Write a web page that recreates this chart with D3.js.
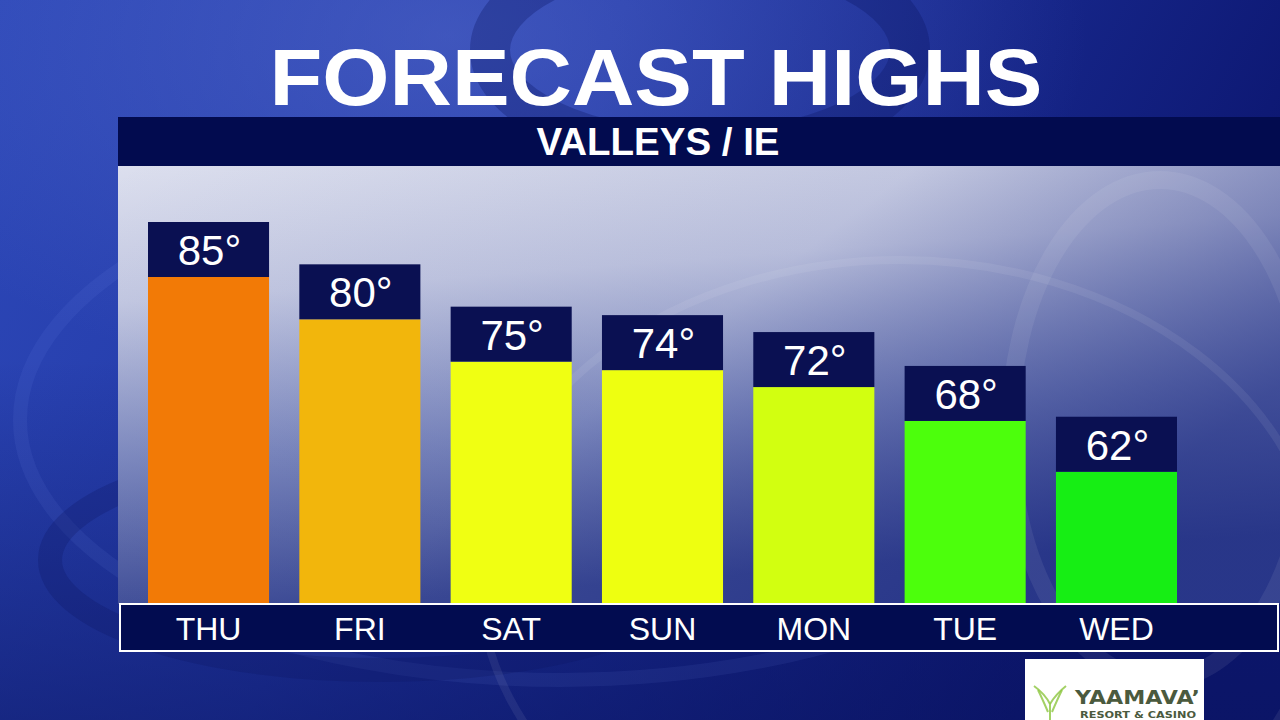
<!DOCTYPE html>
<html>
<head>
<meta charset="utf-8">
<script src="https://cdn.jsdelivr.net/npm/d3@7"></script>
<style>
html,body{margin:0;padding:0;background:#1a2a90;overflow:hidden;}
svg{display:block;}
</style>
</head>
<body>
<svg id="chart" width="1280" height="720"></svg>
<script>
const days = ["THU","FRI","SAT","SUN","MON","TUE","WED"];
const highs = [85, 80, 75, 74, 72, 68, 62];
const barColors = ["#f27a06","#f2b60c","#f0ff12","#eeff10","#d2ff10","#4cff0c","#16ee14"];
const titleText = "FORECAST HIGHS";
const subtitleText = "VALLEYS / IE";

const svg = d3.select("#chart");
const defs = svg.append("defs");

// background gradients
const bg = defs.append("linearGradient").attr("id","bg").attr("x1",0).attr("y1",0).attr("x2",1).attr("y2",0.3);
bg.append("stop").attr("offset","0%").attr("stop-color","#2d48b8");
bg.append("stop").attr("offset","45%").attr("stop-color","#2238a6");
bg.append("stop").attr("offset","100%").attr("stop-color","#0c1670");
const bgGlow = defs.append("radialGradient").attr("id","bgGlow").attr("cx",0.35).attr("cy",0.05).attr("r",0.5);
bgGlow.append("stop").attr("offset","0%").attr("stop-color","#5a70d0").attr("stop-opacity",0.5);
bgGlow.append("stop").attr("offset","100%").attr("stop-color","#5a70d0").attr("stop-opacity",0);
const bottomDark = defs.append("linearGradient").attr("id","bottomDark").attr("x1",0).attr("y1",0).attr("x2",0).attr("y2",1);
bottomDark.append("stop").attr("offset","0%").attr("stop-color","#0a1460").attr("stop-opacity",0);
bottomDark.append("stop").attr("offset","100%").attr("stop-color","#0a1460").attr("stop-opacity",0.55);

const panel = defs.append("linearGradient").attr("id","panel").attr("x1",0).attr("y1",0).attr("x2",0.2).attr("y2",1);
panel.append("stop").attr("offset","0%").attr("stop-color","#dcdfee");
panel.append("stop").attr("offset","30%").attr("stop-color","#c4c9e2");
panel.append("stop").attr("offset","65%").attr("stop-color","#7e8abf");
panel.append("stop").attr("offset","100%").attr("stop-color","#3e4c96");
const panelR = defs.append("linearGradient").attr("id","panelR").attr("x1",0).attr("y1",0).attr("x2",1).attr("y2",0.5);
panelR.append("stop").attr("offset","0%").attr("stop-color","#1a2880").attr("stop-opacity",0);
panelR.append("stop").attr("offset","55%").attr("stop-color","#1a2880").attr("stop-opacity",0.08);
panelR.append("stop").attr("offset","100%").attr("stop-color","#1a2880").attr("stop-opacity",0.6);

svg.append("rect").attr("width",1280).attr("height",720).attr("fill","url(#bg)");
svg.append("rect").attr("width",1280).attr("height",720).attr("fill","url(#bgGlow)");
svg.append("rect").attr("y",360).attr("width",1280).attr("height",360).attr("fill","url(#bottomDark)");

// faint swirl rings in background
const rings = svg.append("g").attr("fill","none");
rings.append("ellipse").attr("cx",560).attr("cy",420).attr("rx",540).attr("ry",260)
  .attr("stroke","#8aa0ff").attr("stroke-opacity",0.08).attr("stroke-width",14);
rings.append("ellipse").attr("cx",700).attr("cy",50).attr("rx",210).attr("ry",100)
  .attr("stroke","#0a1560").attr("stroke-opacity",0.3).attr("stroke-width",40);
rings.append("ellipse").attr("cx",380).attr("cy",560).attr("rx",330).attr("ry",110)
  .attr("stroke","#0a1460").attr("stroke-opacity",0.25).attr("stroke-width",24);

// title
svg.append("text").attr("x",656).attr("y",105).attr("text-anchor","middle")
  .attr("font-family","Liberation Sans, Arial, sans-serif").attr("font-weight","bold")
  .attr("font-size",79).attr("fill","#ffffff")
  .attr("textLength",773).attr("lengthAdjust","spacingAndGlyphs")
  .text(titleText);

// header bar
svg.append("rect").attr("x",118).attr("y",117).attr("width",1162).attr("height",49).attr("fill","#020b4f");
svg.append("text").attr("x",658).attr("y",155).attr("text-anchor","middle")
  .attr("font-family","Liberation Sans, Arial, sans-serif").attr("font-weight","bold")
  .attr("font-size",38).attr("fill","#ffffff")
  .attr("textLength",243).attr("lengthAdjust","spacingAndGlyphs")
  .text(subtitleText);

// chart panel
svg.append("rect").attr("x",118).attr("y",166).attr("width",1162).attr("height",438).attr("fill","url(#panel)");
svg.append("rect").attr("x",118).attr("y",166).attr("width",1162).attr("height",438).attr("fill","url(#panelR)");
// faint light streaks on panel
const streaks = svg.append("g").attr("fill","none");
streaks.append("ellipse").attr("cx",900).attr("cy",580).attr("rx",420).attr("ry",320)
  .attr("stroke","#ffffff").attr("stroke-opacity",0.07).attr("stroke-width",8);
streaks.append("ellipse").attr("cx",1160).attr("cy",430).attr("rx",150).attr("ry",250)
  .attr("stroke","#ffffff").attr("stroke-opacity",0.07).attr("stroke-width",18);

// scales
const x = d3.scaleBand().domain(days).range([148,1177]).paddingInner(0.2).paddingOuter(0);
const y = d3.scaleLinear().domain([40,85]).range([603,222]);
const labelH = 55;
const baseY = y(40);

const bars = svg.append("g").selectAll("g").data(days).join("g");
bars.append("rect")
  .attr("x",d=>x(d)).attr("width",x.bandwidth())
  .attr("y",(d,i)=>y(highs[i])+labelH)
  .attr("height",(d,i)=>baseY-(y(highs[i])+labelH))
  .attr("fill",(d,i)=>barColors[i]);
bars.append("rect")
  .attr("x",d=>x(d)).attr("width",x.bandwidth())
  .attr("y",(d,i)=>y(highs[i]))
  .attr("height",labelH)
  .attr("fill","#0a1052");
bars.append("text")
  .attr("x",d=>x(d)+x.bandwidth()/2+1)
  .attr("y",(d,i)=>y(highs[i])+43)
  .attr("text-anchor","middle")
  .attr("font-family","Liberation Sans, Arial, sans-serif")
  .attr("font-size",42).attr("fill","#ffffff")
  .text((d,i)=>highs[i]+"°");

// axis bar
svg.append("rect").attr("x",120).attr("y",604).attr("width",1158).attr("height",47)
  .attr("fill","#020c50").attr("stroke","#ffffff").attr("stroke-width",2);
const axis = d3.axisBottom(x).tickSize(0).tickPadding(0);
const ag = svg.append("g").call(axis);
ag.select(".domain").remove();
ag.selectAll("text")
  .attr("y",640).attr("dy",0)
  .attr("font-family","Liberation Sans, Arial, sans-serif")
  .attr("font-size",32).attr("fill","#ffffff");

// sponsor logo
const logo = svg.append("g");
logo.append("rect").attr("x",1025).attr("y",659).attr("width",179).attr("height",61).attr("fill","#ffffff");
const yg = logo.append("g").attr("stroke","#8cc63f").attr("stroke-opacity",0.8).attr("fill","none").attr("stroke-width",2);
yg.append("path").attr("d","M1050,720 L1050,704 Q1045,694 1034,686");
yg.append("path").attr("d","M1050,704 Q1056,694 1066,686");
yg.append("path").attr("d","M1048,712 Q1042,698 1038,690");
yg.append("path").attr("d","M1052,712 Q1058,698 1062,690");
logo.append("text").attr("x",1075).attr("y",704)
  .attr("font-family","DejaVu Sans, sans-serif").attr("font-weight","bold")
  .attr("font-size",20).attr("fill","#4b5a3e")
  .attr("textLength",125).attr("lengthAdjust","spacingAndGlyphs")
  .text("YAAMAVA’");
logo.append("text").attr("x",1080).attr("y",718)
  .attr("font-family","DejaVu Sans, sans-serif").attr("font-weight","bold")
  .attr("font-size",9).attr("fill","#4b5a3e")
  .attr("textLength",116).attr("lengthAdjust","spacingAndGlyphs")
  .text("RESORT & CASINO");
</script>
</body>
</html>
